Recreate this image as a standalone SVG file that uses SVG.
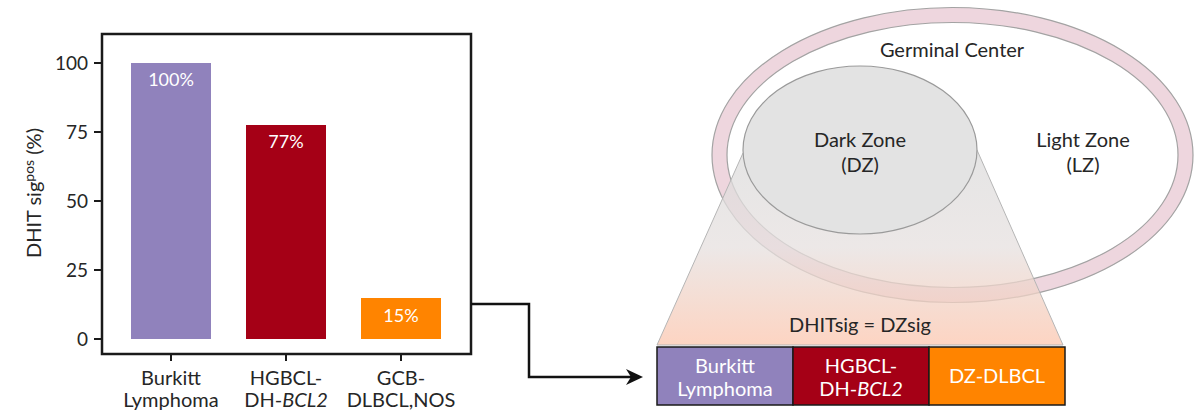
<svg xmlns="http://www.w3.org/2000/svg" width="1202" height="415" viewBox="0 0 1202 415">
<style>
text{font-family:Lato,"Open Sans","Liberation Sans",sans-serif;fill:#262626}
.t{font-size:20px;text-anchor:middle}
.b{font-size:18px;text-anchor:middle}
.w{fill:#ffffff}
.ax{stroke:#1a1a1a;stroke-width:2.5;fill:none}
.tick{stroke:#1a1a1a;stroke-width:2}
.yl{font-size:19px;text-anchor:end}
.ring{fill:none;stroke:#a3a3a3;stroke-width:1.2}
.cell{stroke:#1a1a1a;stroke-width:1.5}
.wire{fill:none;stroke:#111;stroke-width:2.5}
</style>
<defs>
<linearGradient id="cone" x1="0" y1="150" x2="0" y2="345" gradientUnits="userSpaceOnUse">
<stop offset="0" stop-color="#dcdcdc"/>
<stop offset="0.5" stop-color="#e6e0df"/>
<stop offset="1" stop-color="#fcc6ae"/>
</linearGradient>
</defs>
<rect width="1202" height="415" fill="#ffffff"/>

<g id="chart">
<rect class="ax" x="102" y="34" width="369" height="320"/>
<g id="yaxis">
<line class="tick" x1="94" y1="63" x2="102" y2="63"/>
<line class="tick" x1="94" y1="132" x2="102" y2="132"/>
<line class="tick" x1="94" y1="201" x2="102" y2="201"/>
<line class="tick" x1="94" y1="270" x2="102" y2="270"/>
<line class="tick" x1="94" y1="339" x2="102" y2="339"/>
<text class="yl" x="88" y="69.5">100</text>
<text class="yl" x="88" y="138.5">75</text>
<text class="yl" x="88" y="207.5">50</text>
<text class="yl" x="88" y="276.5">25</text>
<text class="yl" x="88" y="345.5">0</text>
<text transform="translate(41,193) rotate(-90)" font-size="20" text-anchor="middle">DHIT sig<tspan font-size="14" dy="-7">pos</tspan><tspan dy="7"> (%)</tspan></text>
</g>
<g id="bar-burkitt">
<rect x="131" y="63" width="80" height="276" fill="#9082bc"/>
<text class="b w" x="171" y="86">100%</text>
<line class="tick" x1="171" y1="354" x2="171" y2="361"/>
<text class="t" x="171" y="385">Burkitt</text>
<text class="t" x="171" y="407">Lymphoma</text>
</g>
<g id="bar-hgbcl">
<rect x="246" y="125" width="80" height="214" fill="#a50016"/>
<text class="b w" x="286" y="148">77%</text>
<line class="tick" x1="286" y1="354" x2="286" y2="361"/>
<text class="t" x="286" y="385">HGBCL-</text>
<text class="t" x="286" y="407">DH-<tspan font-style="italic">BCL2</tspan></text>
</g>
<g id="bar-gcb">
<rect x="361" y="298" width="80" height="41" fill="#ff8400"/>
<text class="b w" x="401" y="322">15%</text>
<line class="tick" x1="401" y1="354" x2="401" y2="361"/>
<text class="t" x="401" y="385">GCB-</text>
<text class="t" x="401" y="407">DLBCL,NOS</text>
</g>
</g>

<g id="germinal-center">
<ellipse cx="952.5" cy="155" rx="233" ry="140" fill="none" stroke="#eed6de" stroke-width="15"/>
<ellipse class="ring" cx="952.5" cy="155" rx="240.5" ry="147.5"/>
<ellipse class="ring" cx="952.5" cy="155" rx="225.5" ry="132.5"/>
<text class="t" x="952" y="57" font-size="20.5">Germinal Center</text>
</g>

<g id="projection">
<polygon points="743,153 977,150 1063,345 657,345" fill="url(#cone)" fill-opacity="0.75" stroke="#b5b5b5" stroke-width="1"/>
<text class="t" x="860" y="332" font-size="21">DHITsig = DZsig</text>
</g>

<g id="dark-zone">
<ellipse cx="860" cy="150" rx="117" ry="84" fill="#e3e3e3" stroke="#9a9a9a" stroke-width="1.2"/>
<text class="t" x="860" y="147">Dark Zone</text>
<text class="t" x="860" y="172">(DZ)</text>
</g>

<g id="light-zone">
<text class="t" x="1083" y="147">Light Zone</text>
<text class="t" x="1083" y="172">(LZ)</text>
</g>

<g id="subtypes">
<rect class="cell" x="657" y="347" width="136" height="58" fill="#9082bc"/>
<rect class="cell" x="793" y="347" width="136" height="58" fill="#a50016"/>
<rect class="cell" x="929" y="347" width="136" height="58" fill="#ff8400"/>
<text class="t w" x="725" y="373">Burkitt</text>
<text class="t w" x="725" y="396">Lymphoma</text>
<text class="t w" x="861" y="373">HGBCL-</text>
<text class="t w" x="861" y="396">DH-<tspan font-style="italic">BCL2</tspan></text>
<text class="t w" x="997" y="383">DZ-DLBCL</text>
</g>

<g id="connectors">
<polyline class="wire" points="471,304 529,304 529,377 632,377"/>
<path d="M643,377 L626,369 L631,377 L626,385 Z" fill="#111"/>
</g>
</svg>
